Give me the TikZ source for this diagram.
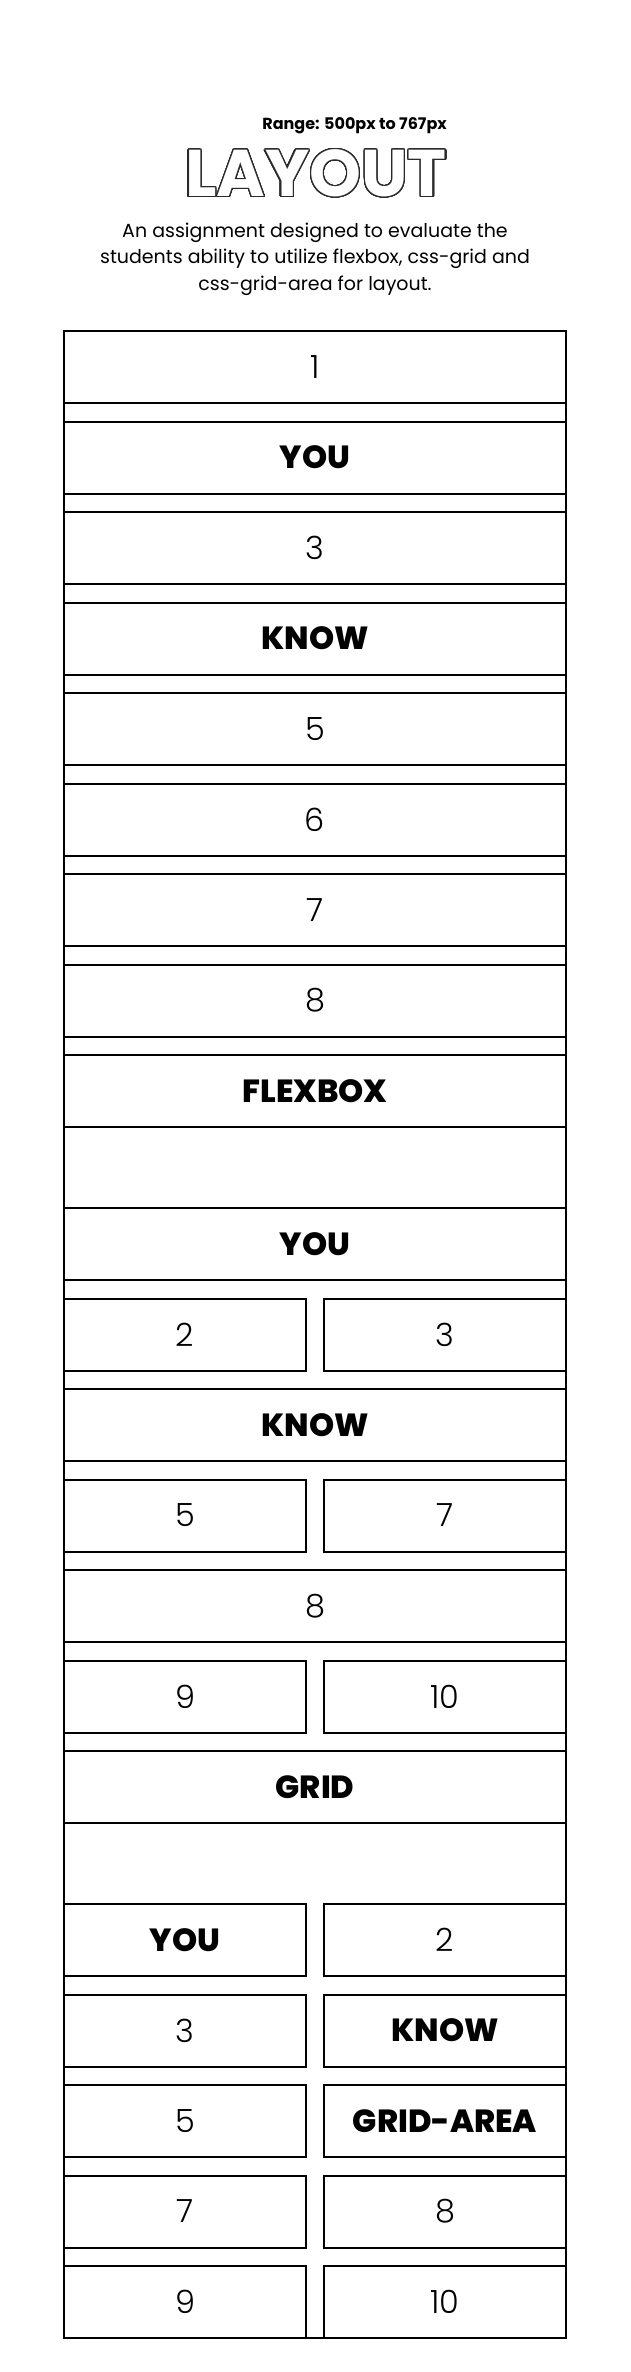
\documentclass[tikz,border=0pt]{standalone}
\usepackage{fontspec}
\setmainfont{Poppins}
\newfontfamily\lightfont{Poppins Light}
\newfontfamily\heavyfont{Poppins ExtraBold}
\usepackage{contour}
\contourlength{1.3pt}
\contournumber{32}
\definecolor{outl}{HTML}{2A2A2A}
\tikzset{
  box/.style={draw, line width=2pt, minimum height=72pt, inner sep=0pt, outer sep=0pt},
  full/.style={box, minimum width=502pt},
  half/.style={box, minimum width=242pt},
  num/.style={font=\lightfont\fontsize{32}{36}\selectfont},
  word/.style={font=\heavyfont\fontsize{32}{36}\selectfont},
  desc/.style={anchor=base, font=\fontsize{19}{22}\selectfont},
}
\begin{document}
\begin{tikzpicture}[x=1pt,y=-1pt]
\useasboundingbox (0,0) rectangle (630,2372);
% header
\node[anchor=base east, inner sep=0pt, font=\fontsize{16}{20}\selectfont\bfseries] (range) at (447,129) {Range: 500px to 767px};
\node[anchor=base, inner sep=0pt, font=\fontsize{66}{70}\selectfont\bfseries] (title) at (316,196.5) {\contour{outl}{\textcolor{white}{LAYOUT}}};
\node[desc] (d1) at (315,237.3) {An assignment designed to evaluate the};
\node[desc] (d2) at (315,263.5) {students ability to utilize flexbox, css-grid and};
\node[desc] (d3) at (315,290) {css-grid-area for layout.};
% container
\draw[line width=2pt] (64,331) rectangle (566,2338);
% section 1
\node[full,num]  (a1) at (315,367)    {1};
\node[full,word] (a2) at (315,457.5)  {YOU};
\node[full,num]  (a3) at (315,548)    {3};
\node[full,word] (a4) at (315,638.5)  {KNOW};
\node[full,num]  (a5) at (315,729)    {5};
\node[full,num]  (a6) at (315,819.5)  {6};
\node[full,num]  (a7) at (315,910)    {7};
\node[full,num]  (a8) at (315,1000.5) {8};
% flexbox
\node[full,word] (fh) at (315,1091)   {FLEXBOX};
\node[full,word] (f1) at (315,1244)   {YOU};
\node[half,num]  (f2) at (185,1334.5) {2};
\node[half,num]  (f3) at (445,1334.5) {3};
\node[full,word] (f4) at (315,1425)   {KNOW};
\node[half,num]  (f5) at (185,1515.5) {5};
\node[half,num]  (f7) at (445,1515.5) {7};
\node[full,num]  (f8) at (315,1606)   {8};
\node[half,num]  (f9) at (185,1696.5) {9};
\node[half,num]  (f10) at (445,1696.5) {10};
% grid
\node[full,word] (gh) at (315,1787)   {GRID};
\node[half,word] (g1) at (185,1940)   {YOU};
\node[half,num]  (g2) at (445,1940)   {2};
\node[half,num]  (g3) at (185,2030.5) {3};
\node[half,word] (g4) at (445,2030.5) {KNOW};
\node[half,num]  (g5) at (185,2121)   {5};
\node[half,word] (g6) at (445,2121)   {GRID-AREA};
\node[half,num]  (g7) at (185,2211.5) {7};
\node[half,num]  (g8) at (445,2211.5) {8};
\node[half,num]  (g9) at (185,2302)   {9};
\node[half,num]  (g10) at (445,2302)  {10};
\end{tikzpicture}
\end{document}
